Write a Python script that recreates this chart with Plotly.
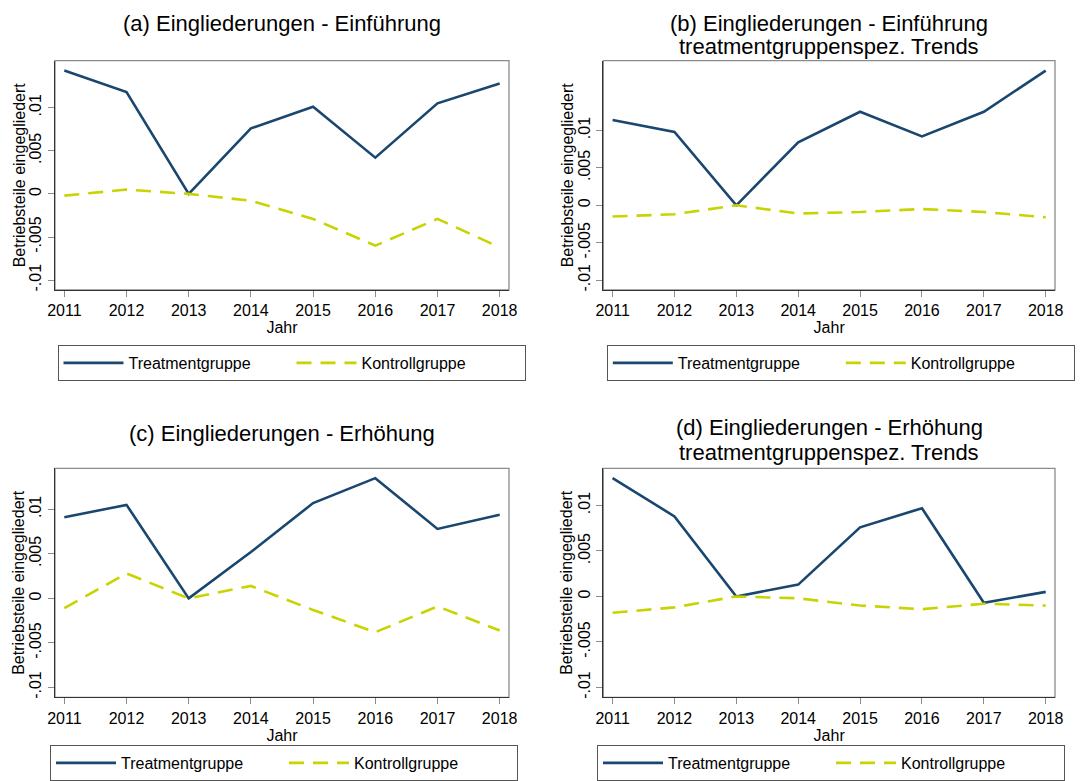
import plotly.graph_objects as go

years = [2011, 2012, 2013, 2014, 2015, 2016, 2017, 2018]

a_treat = [0.0143, 0.0118, 0.0, 0.0076, 0.0101, 0.0042, 0.0105, 0.0128]
a_ctrl = [-0.0002, 0.0005, 0.0, -0.0008, -0.0029, -0.0060, -0.0029, -0.0062]
b_treat = [0.0114, 0.0098, 0.0, 0.0084, 0.0125, 0.0092, 0.0125, 0.0180]
b_ctrl = [-0.0015, -0.0012, 0.0, -0.0011, -0.0009, -0.0005, -0.0009, -0.0016]
c_treat = [0.0091, 0.0105, 0.0, 0.0052, 0.0107, 0.0135, 0.0078, 0.0094]
c_ctrl = [-0.0011, 0.0028, 0.0, 0.0014, -0.0013, -0.0038, -0.0009, -0.0036]
d_treat = [0.0130, 0.0088, 0.0, 0.0013, 0.0076, 0.0097, -0.0007, 0.0005]
d_ctrl = [-0.0018, -0.0012, 0.0, -0.0002, -0.0010, -0.0014, -0.0008, -0.0010]

titles = [
    ["(a) Eingliederungen - Einführung"],
    ["(b) Eingliederungen - Einführung", "treatmentgruppenspez. Trends"],
    ["(c) Eingliederungen - Erhöhung"],
    ["(d) Eingliederungen - Erhöhung", "treatmentgruppenspez. Trends"],
]
ytick_vals = [-0.01, -0.005, 0, 0.005, 0.01]
ytick_text = ["-.01", "-.005", "0", ".005", ".01"]
series_names = ["Treatmentgruppe", "Kontrollgruppe"]
x_title = "Jahr"
y_title = "Betriebsteile eingegliedert"

# page body has an 8px margin: the figure starts at (8, 8) in the window
OX, OY = 8, 8
W, H = 1088 - OX, 781 - OY
NAVY = "#1a476f"
LIME = "#c8d400"
FONT = "Arial, Liberation Sans, sans-serif"


def px(x):
    return (x - OX) / W


def py(y):
    return 1 - (y - OY) / H


panels = [
    dict(t=a_treat, c=a_ctrl, x0=55, x1=509, y0=60.7, y1=290, ytx=19, leg=(291.5, 345, "top")),
    dict(t=b_treat, c=b_ctrl, x0=603.3, x1=1055, y0=60.7, y1=290, ytx=567, leg=(840.8, 345, "top")),
    dict(t=c_treat, c=c_ctrl, x0=55, x1=509, y0=468.3, y1=697.3, ytx=19, leg=(284, 781, "bottom")),
    dict(t=d_treat, c=d_ctrl, x0=603.3, x1=1055, y0=468.3, y1=697.3, ytx=567, leg=(831, 781, "bottom")),
]
title_centers = [[23.0], [23.0, 46.5], [433.0], [427.5, 452.0]]

fig = go.Figure()
layout = dict(
    template="none",
    width=W, height=H,
    margin=dict(l=0, r=0, t=0, b=0, autoexpand=False),
    paper_bgcolor="white", plot_bgcolor="white",
    font=dict(family=FONT, color="black"),
    showlegend=True,
)
annotations = []
shapes = []

for i, p in enumerate(panels):
    n = "" if i == 0 else str(i + 1)
    xa = "xaxis" + n
    ya = "yaxis" + n
    xr = "x" + n
    yr = "y" + n
    legname = "legend" + n

    vals = p["t"] + p["c"] + ytick_vals
    lo, hi = min(vals), max(vals)
    pad = (hi - lo) * 0.047

    fig.add_trace(go.Scatter(
        x=years, y=p["t"], mode="lines", name=series_names[0],
        line=dict(color=NAVY, width=2.6), xaxis=xr, yaxis=yr, legend=legname,
    ))
    fig.add_trace(go.Scatter(
        x=years, y=p["c"], mode="lines", name=series_names[1],
        line=dict(color=LIME, width=2.6, dash="15px,9px"), xaxis=xr, yaxis=yr, legend=legname,
    ))

    layout[xa] = dict(
        domain=[px(p["x0"]), px(p["x1"])],
        anchor=yr, range=[2010.85, 2018.15], automargin=False,
        tickmode="array", tickvals=years, ticktext=[str(y) for y in years],
        ticks="outside", ticklen=6, tickcolor="#8c8c8c", tickwidth=1,
        showline=True, linecolor="#333333", linewidth=1.3,
        showgrid=False, zeroline=False,
        tickfont=dict(size=16, family=FONT), ticklabelstandoff=0,
        title=dict(text=x_title, font=dict(size=16, family=FONT), standoff=0),
        fixedrange=True,
    )
    layout[ya] = dict(
        domain=[py(p["y1"]), py(p["y0"])],
        anchor=xr, range=[lo - pad, hi + pad], automargin=False,
        tickmode="array", tickvals=ytick_vals, ticktext=ytick_text,
        ticks="outside", ticklen=6, tickcolor="#8c8c8c", tickwidth=1,
        tickangle=-90,
        showline=True, linecolor="#333333", linewidth=1.3,
        showgrid=False, zeroline=False,
        tickfont=dict(size=16, family=FONT), ticklabelstandoff=0,
        fixedrange=True,
    )
    # y axis title
    annotations.append(dict(
        text=y_title, xref="paper", yref="paper",
        x=px(p["ytx"]), y=py((p["y0"] + p["y1"]) / 2),
        xanchor="center", yanchor="middle", textangle=-90, showarrow=False,
        font=dict(size=16, family=FONT, color="black"),
    ))
    # plot region frame
    shapes.append(dict(
        type="rect", xref=xr + " domain", yref=yr + " domain",
        x0=0, x1=1, y0=0, y1=1, line=dict(color="#8c8c8c", width=1.3), layer="below",
    ))

    # titles
    cx = px((p["x0"] + p["x1"]) / 2)
    for line_txt, cy in zip(titles[i], title_centers[i]):
        annotations.append(dict(
            text=line_txt, xref="paper", yref="paper", x=cx, y=py(cy),
            xanchor="center", yanchor="middle", showarrow=False,
            font=dict(size=22, family=FONT, color="black"),
        ))

    lcx, ly0, lanchor = p["leg"]
    layout[legname] = dict(
        x=px(lcx), y=py(ly0), xanchor="center", yanchor=lanchor,
        orientation="h", bordercolor="#555555", borderwidth=1,
        bgcolor="white", font=dict(size=16, family=FONT),
        entrywidth=158, entrywidthmode="pixels",
        itemwidth=60, tracegroupgap=0,
    )

layout["annotations"] = annotations
layout["shapes"] = shapes
fig.update_layout(**layout)
fig.write_html("out.html")
